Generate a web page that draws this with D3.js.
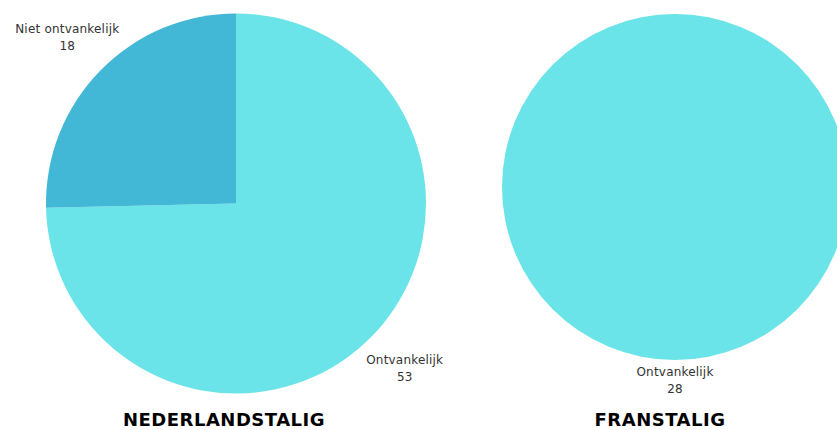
<!DOCTYPE html>
<html>
  <head>
    <meta charset="utf-8">
    <script src="https://cdn.jsdelivr.net/npm/d3@7/dist/d3.min.js"></script>
    <style>
      body { margin: 0; background: #fff; }
      text { font-family: "DejaVu Sans", sans-serif; }
    </style>
  </head>
  <body>
    <svg width="837" height="430" id="mainsvg"></svg>
    <script>
        // data
        const categories = ['Ontvankelijk', 'Niet ontvankelijk'];
        const nlValues = [53, 18];
        const frValues = [28, 0];
        const titles = ['NEDERLANDSTALIG', 'FRANSTALIG'];
        const colors = ['#6ae4e8', '#42b7d6'];

        const svg = d3.select('#mainsvg');

        const panels = [
            {values: nlValues, title: titles[0], cx: 236, cy: 203.5, r: 190, lr: 236, tx: 224},
            {values: frValues, title: titles[1], cx: 675, cy: 187, r: 173, lr: 194, tx: 660}
        ];

        const pie = d3.pie().sort(null).value(d => d.value);

        panels.forEach(p => {
            const rows = categories.map((c, i) => ({name: c, value: p.values[i], color: colors[i]}));
            const arcs = pie(rows).filter(a => a.data.value > 0);
            const arc = d3.arc().innerRadius(0).outerRadius(p.r);
            const g = svg.append('g').attr('transform', `translate(${p.cx}, ${p.cy})`);

            g.selectAll('path').data(arcs).enter().append('path')
                .attr('d', arc)
                .attr('fill', d => d.data.color);

            const lab = g.selectAll('.lab').data(arcs).enter().append('text')
                .attr('class', 'lab')
                .attr('text-anchor', 'middle')
                .attr('font-size', 12)
                .attr('letter-spacing', 0.2)
                .attr('fill', '#333')
                .attr('transform', d => {
                    const a = (d.startAngle + d.endAngle) / 2;
                    return `translate(${Math.sin(a) * p.lr}, ${-Math.cos(a) * p.lr})`;
                });
            lab.append('tspan').attr('x', 0).attr('y', -5).text(d => d.data.name);
            lab.append('tspan').attr('x', 0).attr('y', 12).text(d => d.data.value);

            svg.append('text')
                .attr('x', p.tx)
                .attr('y', 426)
                .attr('text-anchor', 'middle')
                .attr('font-size', 18)
                .attr('letter-spacing', 0.5)
                .attr('font-weight', 'bold')
                .attr('fill', '#000')
                .text(p.title);
        });
    </script>
  </body>
</html>
